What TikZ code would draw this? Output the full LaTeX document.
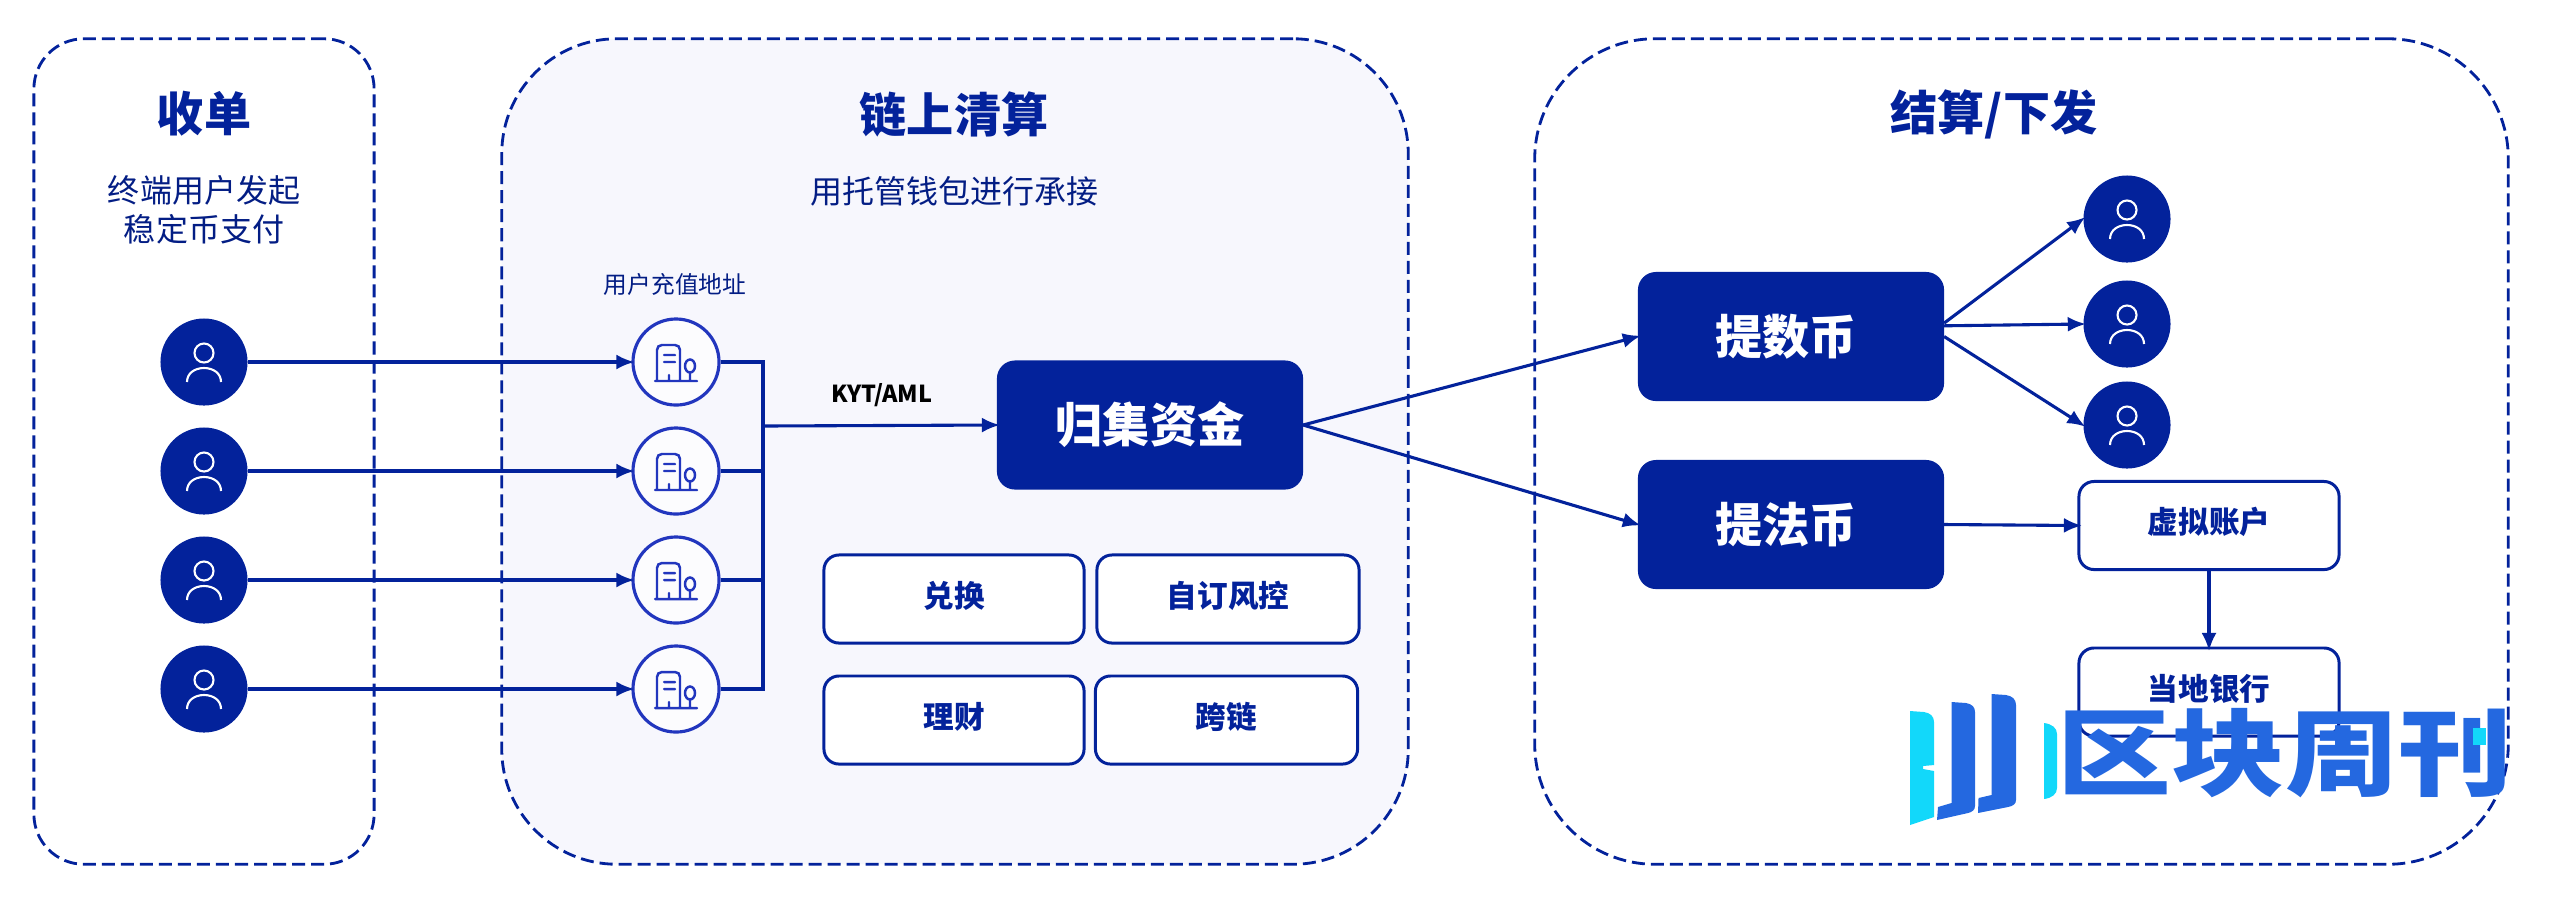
\documentclass[tikz,border=0pt]{standalone}
\usepackage{fontspec}
\usepackage{tikz}
\usetikzlibrary{arrows.meta,positioning}
\newfontfamily\cjk{Noto Sans CJK SC}
\definecolor{deepblue}{HTML}{03229B}
\definecolor{ringblue}{HTML}{2236BE}
\definecolor{softbg}{HTML}{F7F7FD}
\definecolor{logoblue}{HTML}{2468E0}
\definecolor{logocyan}{HTML}{12D8FA}
\tikzset{
  panel/.style={draw=deepblue,dash pattern=on .13cm off .06cm,line width=.8pt,inner sep=0pt},
  bluebox/.style={fill=deepblue,text=white,rounded corners=.18cm,inner sep=0pt,outer sep=0pt,minimum width=3.06cm,minimum height=1.29cm,font=\cjk\bfseries\fontsize{13.4}{16}\selectfont},
  wbox/.style={draw=deepblue,fill=white,line width=.85pt,text=deepblue,rounded corners=.15cm,inner sep=0pt,outer sep=0pt,minimum width=2.6cm,minimum height=.88cm,text height=.25cm,text depth=.082cm,font=\cjk\bfseries\fontsize{8.7}{10}\selectfont},
  heading/.style={text=deepblue,font=\cjk\bfseries\fontsize{13.4}{16}\selectfont},
  subtext/.style={text=deepblue!85!black,align=center,font=\cjk\fontsize{9.1}{11.1}\selectfont},
  arr/.style={-{Latex[length=.18cm,width=.15cm]},deepblue,line width=.88pt,shorten >=-.03cm},
  link/.style={deepblue,line width=.88pt},
  user/.style={circle,fill=deepblue,inner sep=0pt,minimum size=.87cm,path picture={
    \draw[white,line width=.6pt,shift={(path picture bounding box.center)}]
      (0,-9) circle (.095cm)
      (-17,20) .. controls (-17,11) and (-9,6) .. (0,6) .. controls (9,6) and (17,11) .. (17,20);
  }},
  addr/.style={circle,draw=ringblue,fill=softbg!40!white,line width=.9pt,inner sep=0pt,minimum size=.86cm,path picture={
    \draw[ringblue,line width=.7pt,shift={(path picture bounding box.center)},line cap=round]
      (-21,19) -- (21,19)
      (-19,19) -- (-19,-12) .. controls (-19,-15) and (-17,-17) .. (-14,-17) -- (-1,-17) .. controls (2,-17) and (4,-15) .. (4,-12) -- (4,19)
      (-12,-7) -- (-1,-7) (-12,0) -- (-1,0) (-7,13) -- (-7,19)
      (14,4) ellipse (.05cm and .065cm) (14,10) -- (14,19);
  }}
}
\begin{document}
\begin{tikzpicture}[x=.01cm,y=-.01cm]
  \useasboundingbox (0,0) rectangle (2549,905);

  \node[panel,minimum width=3.4cm,minimum height=8.25cm,rounded corners=.5cm] (p1) at (204,451.5) {};
  \node[panel,fill=softbg,minimum width=9.06cm,minimum height=8.25cm,rounded corners=1.15cm] (p2) at (955,451.5) {};
  \node[panel,minimum width=9.73cm,minimum height=8.25cm,rounded corners=1.2cm] (p3) at (2021.5,451.5) {};

  \node[heading] (t1) at (204,114) {收单};
  \node[heading] (t2) at (954,114) {链上清算};
  \node[heading] (t3) at (1994,114) {结算/下发};
  \node[subtext] (s1) at (204,210) {终端用户发起\\稳定币支付};
  \node[subtext] (s2) at (954,191) {用托管钱包进行承接};
  \node[subtext,font=\cjk\fontsize{6.75}{8}\selectfont] (s3) at (675,284) {用户充值地址};

  \node[user] (u1) at (204,362) {};
  \node[user] (u2) at (204,471) {};
  \node[user] (u3) at (204,580) {};
  \node[user] (u4) at (204,689) {};
  \node[addr] (a1) at (676,362) {};
  \node[addr] (a2) at (676,471) {};
  \node[addr] (a3) at (676,580) {};
  \node[addr] (a4) at (676,689) {};
  \coordinate (j) at (763,426);

  \node[bluebox] (jz) at (1150,425) {归集资金};
  \node[bluebox] (tb) at (1791,336.5) {提数币\hspace*{.1cm}};
  \node[bluebox] (tf) at (1791,524.5) {提法币\hspace*{.1cm}};

  \node[wbox] (dh) at (954,599) {兑换};
  \node[wbox,minimum width=2.62cm] (zd) at (1228,599) {自订风控};
  \node[wbox] (lc) at (954,720) {理财};
  \node[wbox,minimum width=2.62cm] (kl) at (1226.5,720) {跨链};

  \node[user] (u5) at (2127,219) {};
  \node[user] (u6) at (2127,324) {};
  \node[user] (u7) at (2127,425) {};
  \node[wbox] (xn) at (2209,525.5) {虚拟账户};
  \node[wbox] (dd) at (2209,692) {当地银行};

  \draw[arr] (u1) -- (a1);
  \draw[arr] (u2) -- (a2);
  \draw[arr] (u3) -- (a3);
  \draw[arr] (u4) -- (a4);
  \draw[link] (a1.east) -| (j);
  \draw[link] (a2.east) -| (j);
  \draw[link] (a3.east) -| (j);
  \draw[link] (a4.east) -| (j);
  \draw[arr] (j) -- (jz.west) node[midway,above=.05cm,xshift=.02cm,text=black,font=\cjk\bfseries\fontsize{6.65}{8}\selectfont] (ky) {KYT/AML};
  \draw[arr] (jz.east) -- (tb.west);
  \draw[arr] (jz.east) -- (tf.west);
  \draw[arr] (tb.5) -- (u5.west);
  \draw[arr] (tb.4) -- (u6.west);
  \draw[arr] (tb.east) -- (u7.west);
  \draw[arr] (tf.east) -- (xn.west);
  \draw[arr] (xn.south) -- (dd.north);

  \fill[logocyan] (1910,711) -- (1924,712) .. controls (1930,713) and (1934,716) .. (1934,722) -- (1934,765) -- (1923,766) -- (1923,769) -- (1934,771) -- (1934,817) -- (1910,825) -- cycle;
  \fill[logoblue] (1951.5,702) -- (1966,703) .. controls (1972,704) and (1975,707) .. (1975,712) -- (1975,806) .. controls (1975,810) and (1972,812) .. (1968,813) -- (1937,820) -- (1938,807) -- (1951.5,803) -- cycle;
  \fill[logoblue] (1991.5,694) -- (2006,695) .. controls (2012,696) and (2016,699) .. (2016,705) -- (2016,800) .. controls (2016,804) and (2013,806) .. (2008,807) -- (1978,813) -- (1978.5,798) -- (1991.5,795) -- cycle;
  \fill[logocyan] (2044,723) .. controls (2052,724) and (2057,728) .. (2057,734) -- (2057,788) .. controls (2057,794) and (2052,798) .. (2044,799) -- cycle;
  \node[text=logoblue,font=\cjk\bfseries\fontsize{27}{29}\selectfont,xscale=1.2,transform shape,inner sep=0pt] (logo) at (2285,753) {区块周刊};
  \fill[logocyan] (2473,728) rectangle (2486,745);
\end{tikzpicture}
\end{document}
